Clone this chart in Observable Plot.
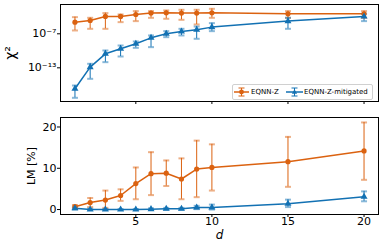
<!DOCTYPE html>
<html><head><meta charset="utf-8">
<script src="https://cdn.jsdelivr.net/npm/d3@7"></script>
<script src="https://cdn.jsdelivr.net/npm/@observablehq/plot@0.6"></script>
<style>
body{margin:0;background:#fff;}
#wrap{position:relative;width:382px;height:249px;font-family:"DejaVu Sans",sans-serif;overflow:hidden;}
#topPanel,#botPanel{position:absolute;left:0;}
#topPanel{top:0;} #botPanel{top:110px;}
#legend{position:absolute;left:232px;top:84px;width:139px;height:14px;border:1px solid #d0d0d0;border-radius:2px;background:rgba(255,255,255,0.85);font-size:7px;color:#000;}
#legend svg{position:absolute;left:0;top:0;}
#legend span{position:absolute;top:2px;line-height:10px;}
</style></head>
<body><div id="wrap"><div id="topPanel"></div><div id="botPanel"></div>
<div id="legend"></div></div>
<script>
// ---- data ----
const dVals = [1, 2, 3, 4, 5, 6, 7, 8, 9, 10, 15, 20];
const seriesNames = ["EQNN-Z", "EQNN-Z-mitigated"];
// chi^2 values stored as log10 exponents
const chiZExp   = [-4.94, -4.65, -3.94, -3.94, -3.59, -3.35, -3.29, -3.35, -3.35, -3.29, -3.47, -3.47];
const chiZLoExp = [-6.41, -6.12, -6.12, -4.94, -4.76, -4.18, -4.35, -4.53, -5.35, -4.18, -4.18, -4.18];
const chiZHiExp = [-4.06, -4.18, -3.35, -3.59, -3.00, -3.00, -2.88, -2.76, -2.76, -2.59, -3.00, -3.00];
const chiMExp   = [-16.70, -12.88, -10.53, -9.65, -8.76, -7.71, -7.00, -6.59, -6.29, -5.82, -4.76, -3.94];
const chiMLoExp = [-18.29, -14.94, -12.00, -11.00, -9.47, -9.35, -7.59, -7.29, -7.88, -6.53, -6.12, -4.76];
const chiMHiExp = [-16.12, -12.29, -9.94, -9.06, -8.35, -7.29, -6.53, -6.12, -5.71, -5.12, -4.18, -3.47];
// LM [%]
const lmZ   = [0.7, 1.7, 2.3, 3.4, 6.3, 8.7, 8.8, 7.4, 9.8, 10.2, 11.6, 14.2];
const lmZLo = [0.3, 0.6, 0.4, 2.1, 2.5, 3.5, 5.7, 2.5, 3.0, 4.6, 5.5, 7.2];
const lmZHi = [1.1, 2.8, 4.6, 4.9, 10.2, 13.9, 11.9, 12.4, 16.7, 15.8, 17.6, 21.1];
const lmM   = [0.3, 0.0, 0.0, 0.0, 0.0, 0.1, 0.2, 0.2, 0.5, 0.5, 1.4, 3.1];
const lmMLo = [0.0, -0.1, -0.1, -0.1, -0.1, -0.05, 0.0, 0.0, 0.1, 0.0, 0.6, 2.0];
const lmMHi = [0.6, 0.2, 0.1, 0.1, 0.1, 0.3, 0.4, 0.4, 0.9, 1.2, 2.4, 4.4];
const xTicks = [5, 10, 15, 20];
const chiTicksExp = [-13, -7];
const lmTicks = [0, 10, 20];

const ORANGE = "#db6210", BLUE = "#1271b3";
const colors = [ORANGE, BLUE];
const FONT = "DejaVu Sans, sans-serif";

function rows(name, ys, lo, hi, tf = v => v) {
  return dVals.map((x, i) => ({d: x, series: name, y: tf(ys[i]), lo: tf(lo[i]), hi: tf(hi[i])}));
}
const pow = e => Math.pow(10, e);
const chiData = [...rows(seriesNames[0], chiZExp, chiZLoExp, chiZHiExp, pow),
                 ...rows(seriesNames[1], chiMExp, chiMLoExp, chiMHiExp, pow)];
const lmData = [...rows(seriesNames[0], lmZ, lmZLo, lmZHi),
                ...rows(seriesNames[1], lmM, lmMLo, lmMHi)];

const cap = {draw(ctx) { ctx.moveTo(-3, 0); ctx.lineTo(3, 0); }};
const sup = {"-": "\u207B", "0": "\u2070", "1": "\u00B9", "2": "\u00B2", "3": "\u00B3", "4": "\u2074", "5": "\u2075", "6": "\u2076", "7": "\u2077", "8": "\u2078", "9": "\u2079"};
const fmtPow = v => "10" + String(Math.round(Math.log10(v))).split("").map(c => sup[c]).join("");

function seriesMarks(data) {
  return [
    Plot.line(data, {x: "d", y: "y", z: "series", stroke: "series", strokeWidth: 1.5}),
    Plot.ruleX(data, {x: "d", y1: "lo", y2: "hi", stroke: "series", strokeWidth: 1}),
    Plot.dot(data, {x: "d", y: "lo", symbol: cap, fill: "none", stroke: "series", strokeOpacity: 0.5, strokeWidth: 2}),
    Plot.dot(data, {x: "d", y: "hi", symbol: cap, fill: "none", stroke: "series", strokeOpacity: 0.5, strokeWidth: 2}),
    Plot.dot(data, {x: "d", y: "y", symbol: "series", fill: "series", stroke: "none", r: 2.6})
  ];
}
const common = {
  width: 382, marginLeft: 60, marginRight: 4,
  x: {domain: [0.05, 20.95]},
  color: {domain: seriesNames, range: colors},
  symbol: {domain: seriesNames, range: ["circle", "triangle"]},
  style: {fontFamily: FONT, fontSize: "11px", color: "#000", background: "transparent", overflow: "visible"}
};

const topChart = Plot.plot({
  ...common, height: 110, marginTop: 4, marginBottom: 9,
  y: {type: "log", domain: [pow(-18.94), pow(-1.83)]},
  marks: [
    ...seriesMarks(chiData),
    Plot.frame({stroke: "#000", strokeWidth: 1}),
    Plot.axisX({ticks: xTicks, tickSize: 3, tickFormat: () => "", label: null}),
    Plot.axisY({ticks: chiTicksExp.map(pow), tickSize: 3, tickPadding: 1, tickFormat: fmtPow, label: null, fontSize: 11}),
    Plot.text(["\u03C7\u00B2"], {frameAnchor: "left", dx: -50, rotate: -90, fontSize: 14, textAnchor: "middle", lineAnchor: "middle"})
  ]
});
document.getElementById("topPanel").appendChild(topChart);

const botChart = Plot.plot({
  ...common, height: 139, marginTop: 7, marginBottom: 35,
  y: {domain: [-1.2, 22.3]},
  marks: [
    ...seriesMarks(lmData),
    Plot.frame({stroke: "#000", strokeWidth: 1}),
    Plot.axisX({ticks: xTicks, tickSize: 3, tickPadding: 0, label: null, fontSize: 11}),
    Plot.axisY({ticks: lmTicks, tickSize: 3, tickPadding: 1, label: null, fontSize: 11}),
    Plot.text(["LM [%]"], {frameAnchor: "left", dx: -29, rotate: -90, fontSize: 11, textAnchor: "middle", lineAnchor: "middle"}),
    Plot.text(["d"], {frameAnchor: "bottom", dy: 21, fontSize: 12, fontStyle: "italic", lineAnchor: "middle"})
  ]
});
document.getElementById("botPanel").appendChild(botChart);

// legend
const lg = document.getElementById("legend");
const items = [{x0: 1, x1: 16, tx: 18}, {x0: 53, x1: 70, tx: 71}];
let svg = '<svg width="139" height="14">';
items.forEach((it, i) => {
  const c = colors[i], mx = (it.x0 + it.x1) / 2, cy = 7;
  svg += `<line x1="${it.x0}" x2="${it.x1}" y1="${cy}" y2="${cy}" stroke="${c}" stroke-width="1.5"/>`;
  svg += `<line x1="${mx}" x2="${mx}" y1="${cy - 4}" y2="${cy + 4}" stroke="${c}" stroke-width="1"/>`;
  svg += `<line x1="${mx - 3}" x2="${mx + 3}" y1="${cy - 4}" y2="${cy - 4}" stroke="${c}" stroke-opacity="0.5" stroke-width="2"/>`;
  svg += `<line x1="${mx - 3}" x2="${mx + 3}" y1="${cy + 4}" y2="${cy + 4}" stroke="${c}" stroke-opacity="0.5" stroke-width="2"/>`;
  if (i === 0) svg += `<circle cx="${mx}" cy="${cy}" r="2.4" fill="${c}"/>`;
  else svg += `<path d="M${mx},${cy - 2.8}L${mx + 2.6},${cy + 1.8}L${mx - 2.6},${cy + 1.8}Z" fill="${c}"/>`;
});
svg += '</svg>';
lg.innerHTML = svg + items.map((it, i) => `<span style="left:${it.tx}px">${seriesNames[i]}</span>`).join("");
</script></body></html>
